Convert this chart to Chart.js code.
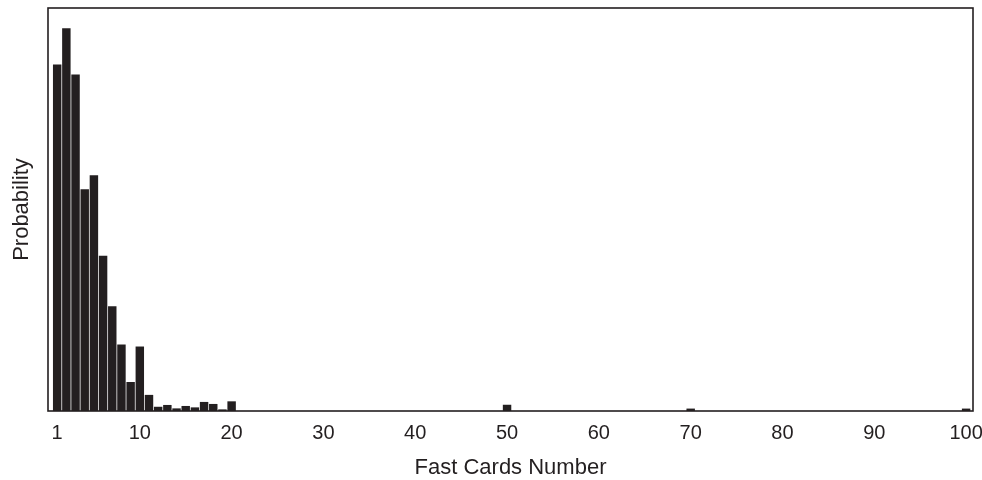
<!DOCTYPE html>
<html>
<head>
<meta charset="utf-8">
<script src="https://cdn.jsdelivr.net/npm/chart.js@4/dist/chart.umd.min.js"></script>
<style>
  html, body { margin: 0; padding: 0; background: #ffffff; }
  #wrap { width: 982px; height: 480px; position: relative; }
</style>
</head>
<body>
<div id="wrap"><canvas id="chart"></canvas></div>
<script>
// Number of fast cards drawn and the probability of each count
const fastCards = [1, 2, 3, 4, 5, 6, 7, 8, 9, 10, 11, 12, 13, 14, 15, 16, 17, 18, 19, 20, 50, 70, 100];
const probability = [0.172, 0.190, 0.167, 0.110, 0.117, 0.077, 0.052, 0.033, 0.0144, 0.032,
                     0.008, 0.0021, 0.003, 0.0013, 0.0025, 0.0018, 0.0045, 0.0035, 0.0008, 0.0048,
                     0.0031, 0.0012, 0.0012];
const xTickValues = [1, 10, 20, 30, 40, 50, 60, 70, 80, 90, 100];

const INK = '#231f20';
const FONT = "'Liberation Sans', Arial, Helvetica, sans-serif";

// Box around the plotting area
const frame = {
  id: 'frame',
  afterDatasetsDraw(chart) {
    const { ctx, chartArea: a } = chart;
    ctx.save();
    ctx.strokeStyle = INK;
    ctx.lineWidth = 1.6;
    ctx.strokeRect(a.left, a.top, a.right - a.left, a.bottom - a.top);
    ctx.restore();
  }
};

new Chart(document.getElementById('chart'), {
  type: 'bar',
  data: {
    datasets: [{
      data: fastCards.map((x, i) => ({ x: x, y: probability[i] })),
      backgroundColor: INK,
      borderWidth: 0,
      barPercentage: 1.0,
      categoryPercentage: 0.92
    }]
  },
  options: {
    responsive: true,
    maintainAspectRatio: false,
    animation: false,
    layout: { padding: { left: 0, right: 9, top: 8, bottom: 0 } },
    plugins: { legend: { display: false }, tooltip: { enabled: false } },
    scales: {
      x: {
        type: 'linear',
        offset: false,
        min: 0,
        max: 100.75,
        afterBuildTicks: (scale) => { scale.ticks = xTickValues.map(v => ({ value: v })); },
        afterFit: (scale) => { scale.paddingLeft = 0; scale.paddingRight = 0; },
        grid: { display: false, drawTicks: false },
        border: { display: false },
        ticks: {
          autoSkip: false,
          maxRotation: 0,
          padding: 10,
          color: INK,
          font: { family: FONT, size: 20 },
          callback: (v) => String(v)
        },
        title: {
          display: true,
          text: 'Fast Cards Number',
          color: INK,
          font: { family: FONT, size: 22, lineHeight: 1.1 },
          padding: { top: 0.8, bottom: 0 }
        }
      },
      y: {
        min: 0,
        max: 0.2,
        grid: { display: false, drawTicks: false },
        border: { display: false },
        ticks: { display: false },
        title: {
          display: true,
          text: 'Probability',
          color: INK,
          font: { family: FONT, size: 22, lineHeight: 1.2 },
          padding: { top: 8.8, bottom: 12.8 }
        }
      }
    }
  },
  plugins: [frame]
});
</script>
</body>
</html>
